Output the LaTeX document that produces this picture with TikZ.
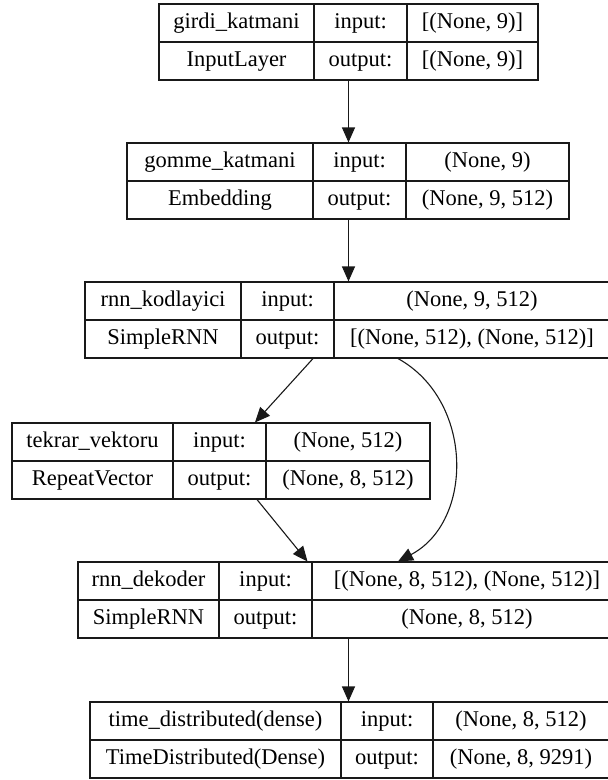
\documentclass[tikz,border=0pt]{standalone}
\usepackage{fontspec}
\setmainfont{Liberation Serif}
\usepackage{tikz}
\usetikzlibrary{arrows.meta}
\definecolor{edge}{rgb}{0.1,0.1,0.1}
\tikzstyle{cell}=[draw=edge, line width=1.1pt, rectangle, inner sep=0pt, text height=15.5pt, text depth=4.5pt, font=\fontsize{22.5}{26}\selectfont]
\tikzstyle{arr}=[draw=edge, line width=1.1pt, -{Triangle[length=15pt,width=13pt]}]

\begin{document}
\begin{tikzpicture}[x=1pt,y=-1pt]
\useasboundingbox (0,0) rectangle (608,780);
\clip (0,0) rectangle (608,780);
% girdi_katmani
\node[cell, minimum width=155pt, minimum height=38pt] (girdi-name) at (236.5,23) {girdi\_katmani};
\node[cell, minimum width=93pt, minimum height=38pt] (girdi-inlab) at (360.5,23) {input:};
\node[cell, minimum width=131pt, minimum height=38pt] (girdi-in) at (472.5,23) {[(None, 9)]};
\node[cell, minimum width=155pt, minimum height=38pt] (girdi-type) at (236.5,61) {InputLayer};
\node[cell, minimum width=93pt, minimum height=38pt] (girdi-outlab) at (360.5,61) {output:};
\node[cell, minimum width=131pt, minimum height=38pt] (girdi-out) at (472.5,61) {[(None, 9)]};
% gomme_katmani
\node[cell, minimum width=186pt, minimum height=38pt] (gomme-name) at (220,162) {gomme\_katmani};
\node[cell, minimum width=93pt, minimum height=38pt] (gomme-inlab) at (359.5,162) {input:};
\node[cell, minimum width=163pt, minimum height=38pt] (gomme-in) at (487.5,162) {(None, 9)};
\node[cell, minimum width=186pt, minimum height=38pt] (gomme-type) at (220,200) {Embedding};
\node[cell, minimum width=93pt, minimum height=38pt] (gomme-outlab) at (359.5,200) {output:};
\node[cell, minimum width=163pt, minimum height=38pt] (gomme-out) at (487.5,200) {(None, 9, 512)};
% rnn_kodlayici
\node[cell, minimum width=156pt, minimum height=38pt] (kodlayici-name) at (163,301) {rnn\_kodlayici};
\node[cell, minimum width=93pt, minimum height=38pt] (kodlayici-inlab) at (287.5,301) {input:};
\node[cell, minimum width=276pt, minimum height=38pt] (kodlayici-in) at (472,301) {(None, 9, 512)};
\node[cell, minimum width=156pt, minimum height=38pt] (kodlayici-type) at (163,339) {SimpleRNN};
\node[cell, minimum width=93pt, minimum height=38pt] (kodlayici-outlab) at (287.5,339) {output:};
\node[cell, minimum width=276pt, minimum height=38pt] (kodlayici-out) at (472,339) {[(None, 512), (None, 512)]};
% tekrar_vektoru
\node[cell, minimum width=161pt, minimum height=38pt] (tekrar-name) at (92.5,442) {tekrar\_vektoru};
\node[cell, minimum width=93pt, minimum height=38pt] (tekrar-inlab) at (219.5,442) {input:};
\node[cell, minimum width=164pt, minimum height=38pt] (tekrar-in) at (348,442) {(None, 512)};
\node[cell, minimum width=161pt, minimum height=38pt] (tekrar-type) at (92.5,480) {RepeatVector};
\node[cell, minimum width=93pt, minimum height=38pt] (tekrar-outlab) at (219.5,480) {output:};
\node[cell, minimum width=164pt, minimum height=38pt] (tekrar-out) at (348,480) {(None, 8, 512)};
% rnn_dekoder
\node[cell, minimum width=141pt, minimum height=38pt] (dekoder-name) at (148.5,581) {rnn\_dekoder};
\node[cell, minimum width=93pt, minimum height=38pt] (dekoder-inlab) at (265.5,581) {input:};
\node[cell, minimum width=310pt, minimum height=38pt] (dekoder-in) at (467,581) {[(None, 8, 512), (None, 512)]};
\node[cell, minimum width=141pt, minimum height=38pt] (dekoder-type) at (148.5,619) {SimpleRNN};
\node[cell, minimum width=93pt, minimum height=38pt] (dekoder-outlab) at (265.5,619) {output:};
\node[cell, minimum width=310pt, minimum height=38pt] (dekoder-out) at (467,619) {(None, 8, 512)};
% time_distributed(dense)
\node[cell, minimum width=251pt, minimum height=38pt] (time-name) at (215.5,721) {time\_distributed(dense)};
\node[cell, minimum width=92pt, minimum height=38pt] (time-inlab) at (387,721) {input:};
\node[cell, minimum width=176pt, minimum height=38pt] (time-in) at (521,721) {(None, 8, 512)};
\node[cell, minimum width=251pt, minimum height=38pt] (time-type) at (215.5,759) {TimeDistributed(Dense)};
\node[cell, minimum width=92pt, minimum height=38pt] (time-outlab) at (387,759) {output:};
\node[cell, minimum width=176pt, minimum height=38pt] (time-out) at (521,759) {(None, 8, 9291)};
% edges
\draw[arr] ([xshift=-12pt]girdi-outlab.south) -- ([xshift=-11pt]gomme-inlab.north);
\draw[arr] ([xshift=-11pt]gomme-outlab.south) -- ([xshift=-123.5pt]kodlayici-in.north);
\draw[arr] ([xshift=25.5pt]kodlayici-outlab.south) -- ([xshift=35.5pt]tekrar-inlab.north);
\draw[arr] ([xshift=-74pt]kodlayici-out.south) .. controls +(76,42) and +(76,-40) .. ([xshift=-69pt]dekoder-in.north);
\draw[arr] ([xshift=37.5pt]tekrar-outlab.south) -- ([xshift=42pt]dekoder-inlab.north);
\draw[arr] ([xshift=-118.5pt]dekoder-out.south) -- ([xshift=-38.5pt]time-inlab.north);
\end{tikzpicture}
\end{document}
